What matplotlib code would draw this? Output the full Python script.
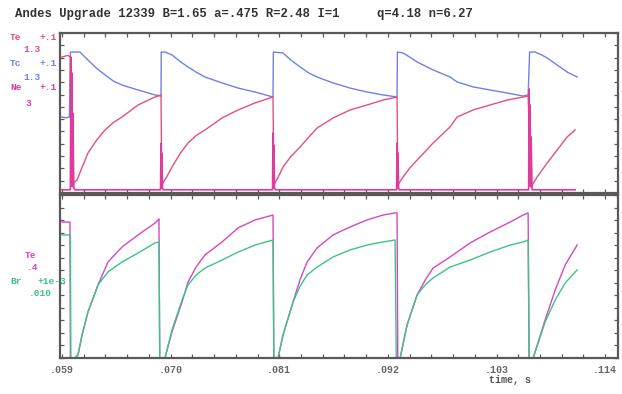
import matplotlib
matplotlib.use("Agg")
import matplotlib.pyplot as plt
from matplotlib.ticker import FixedLocator, FuncFormatter

# ---- data (time in s, signals as fraction of panel height) ----
t_tc = [.05900, .05940, .05975, .05985, .06000, .06082, .06163, .06250, .06336, .06420, .06508, .06670, .06842, .06903,
        .06905, .06943, .07014, .07100, .07176, .07260, .07348, .07521, .07683, .07855, .08037,
        .08040, .08138, .08220, .08311, .08400, .08483, .08645, .08817, .08989, .09151, .09293,
        .09296, .09354, .09420, .09496, .09658, .09830, .09901, .10063, .10235, .10407, .10569, .10620,
        .10635, .10691, .10750, .10813, .10914, .11015, .11116]
tc = [0.475, 0.47, 0.475, 0.88, 0.881, 0.881, 0.831, 0.78, 0.738, 0.70, 0.675, 0.644, 0.613, 0.606,
      0.881, 0.881, 0.863, 0.82, 0.788, 0.755, 0.725, 0.688, 0.656, 0.631, 0.600,
      0.881, 0.875, 0.83, 0.788, 0.75, 0.725, 0.688, 0.656, 0.631, 0.613, 0.600,
      0.881, 0.875, 0.85, 0.819, 0.769, 0.725, 0.694, 0.663, 0.644, 0.625, 0.606, 0.613,
      0.881, 0.881, 0.865, 0.844, 0.800, 0.756, 0.725]

t_te = [.05900, .05960, .05985, .05995, .06052, .06110, .06163, .06250, .06336, .06420, .06508, .06670, .06842, .06903,
        .06910, .06960, .07014, .07100, .07176, .07260, .07348, .07521, .07683, .07855, .08037,
        .08045, .08090, .08138, .08220, .08311, .08400, .08483, .08645, .08817, .08989, .09151, .09293,
        .09300, .09354, .09420, .09496, .09580, .09658, .09830, .09901, .10063, .10235, .10407, .10569, .10620,
        .10650, .10711, .10813, .10914, .11015, .11096]
te = [0.85, 0.86, 0.85, 0.05, 0.081, 0.17, 0.25, 0.33, 0.394, 0.44, 0.475, 0.55, 0.60, 0.613,
      0.05, 0.10, 0.1625, 0.25, 0.3125, 0.36, 0.394, 0.469, 0.519, 0.563, 0.60,
      0.05, 0.10, 0.1625, 0.23, 0.2875, 0.35, 0.406, 0.469, 0.519, 0.55, 0.581, 0.60,
      0.05, 0.10, 0.155, 0.206, 0.26, 0.3125, 0.413, 0.475, 0.519, 0.55, 0.581, 0.60, 0.606,
      0.0375, 0.10, 0.1875, 0.269, 0.35, 0.394]

t_ne = [.05900, .05985, .05990, .05995, .06000, .06005, .06010, .06020, .06030,
        .06898, .06903, .06908, .06912, .06918, .06925,
        .08032, .08037, .08042, .08046, .08052, .08060,
        .09288, .09293, .09298, .09302, .09308, .09315,
        .10625, .10630, .10635, .10640, .10645, .10650, .10660, .11096]
ne = [0.02, 0.02, 0.85, 0.05, 0.75, 0.04, 0.50, 0.03, 0.02,
      0.02, 0.31, 0.03, 0.25, 0.03, 0.02,
      0.02, 0.375, 0.03, 0.30, 0.03, 0.02,
      0.02, 0.3125, 0.03, 0.25, 0.03, 0.02,
      0.02, 0.65, 0.05, 0.55, 0.04, 0.35, 0.02, 0.02]

t_te2 = [.05900, .05981, .05985, .06032, .06062, .06103, .06163, .06265, .06366, .06508, .06670, .06842,
         .06872, .06882, .06890, .06943, .07014, .07116, .07176, .07260, .07348, .07521, .07683, .07855, .08037,
         .08045, .08088, .08138, .08240, .08310, .08382, .08483, .08645, .08817, .08989, .09151, .09273, .09293,
         .09300, .09324, .09394, .09496, .09580, .09658, .09830, .10033, .10235, .10438, .10569, .10620,
         .10630, .10671, .10792, .10894, .10995, .11116]
te2 = [0.834, 0.834, 0.0, 0.0, 0.018, 0.141, 0.282, 0.448, 0.589, 0.681, 0.755, 0.828,
       0.847, 0.853, 0.0, 0.0, 0.160, 0.344, 0.466, 0.56, 0.632, 0.712, 0.798, 0.847, 0.877,
       0.0, 0.0, 0.141, 0.344, 0.48, 0.589, 0.675, 0.755, 0.804, 0.847, 0.877, 0.890, 0.890,
       0.0, 0.0, 0.202, 0.387, 0.48, 0.552, 0.620, 0.706, 0.773, 0.834, 0.877, 0.890,
       0.0, 0.0, 0.233, 0.417, 0.571, 0.693]

t_br = [.05900, .05985, .05990, .06032, .06062, .06103, .06163, .06265, .06366, .06508, .06670, .06842,
        .06882, .06890, .06943, .07014, .07116, .07176, .07260, .07348, .07521, .07683, .07855, .08037,
        .08045, .08088, .08138, .08240, .08310, .08382, .08483, .08645, .08817, .08989, .09151, .09273,
        .09285, .09324, .09394, .09496, .09580, .09658, .09830, .10033, .10235, .10438, .10569, .10620,
        .10630, .10671, .10792, .10894, .10995, .11116]
br = [0.755, 0.755, 0.0, 0.0, 0.018, 0.141, 0.282, 0.448, 0.528, 0.589, 0.644, 0.706,
      0.712, 0.0, 0.0, 0.172, 0.356, 0.448, 0.51, 0.552, 0.601, 0.650, 0.693, 0.724,
      0.0, 0.0, 0.141, 0.344, 0.44, 0.509, 0.558, 0.620, 0.663, 0.693, 0.712, 0.724,
      0.0, 0.0, 0.202, 0.387, 0.45, 0.491, 0.558, 0.601, 0.650, 0.693, 0.712, 0.724,
      0.0, 0.0, 0.221, 0.356, 0.460, 0.540]

xticks = [0.059, 0.070, 0.081, 0.092, 0.103, 0.114]
title_left = "Andes Upgrade 12339 B=1.65 a=.475 R=2.48 I=1"
title_right = "q=4.18 n=6.27"

# ---- colours ----
c_te = "#e5507a"
c_tc = "#7080e6"
c_ne = "#e03a9a"
c_te2 = "#d448c4"
c_br = "#3cc488"
frame = "#5a5a5a"
mono = "Liberation Mono"

fig = plt.figure(figsize=(6.22, 3.94), dpi=100)
ax1 = fig.add_axes([60 / 622, 1 - 193 / 394, 558 / 622, 160 / 394])
ax2 = fig.add_axes([60 / 622, 1 - 358 / 394, 558 / 622, 163 / 394])

ax1.plot(t_tc, tc, color=c_tc, lw=1.0)
ax1.plot(t_te, te, color=c_te, lw=1.0)
ax1.plot(t_ne, ne, color=c_ne, lw=1.2)
ax2.plot(t_te2, te2, color=c_te2, lw=1.0)
ax2.plot(t_br, br, color=c_br, lw=1.0)

minor_x = [xticks[0] + i * 0.0022 for i in range(27)]
for ax in (ax1, ax2):
    ax.set_xlim(0.0588, 0.1153)
    ax.set_ylim(0, 1)
    for s in ax.spines.values():
        s.set_color(frame)
        s.set_linewidth(1.6)
    ax.xaxis.set_major_locator(FixedLocator(xticks))
    ax.xaxis.set_minor_locator(FixedLocator(minor_x))
    ax.yaxis.set_major_locator(FixedLocator([i / 13 for i in range(14)]))
    ax.tick_params(which="both", direction="in", top=True, right=True,
                   length=3, width=0.9, color=frame)
    ax.set_yticklabels([])

ax1.set_xticklabels([])
ax2.xaxis.set_major_formatter(FuncFormatter(lambda v, p: ("%.3f" % v)[1:]))
for lab in ax2.get_xticklabels():
    lab.set_fontfamily(mono)
    lab.set_fontweight("bold")
    lab.set_fontsize(7.2)
    lab.set_color("#666666")
ax2.tick_params(axis="x", pad=5)

# title line
fig.text(15 / 622, 1 - 14 / 394, title_left, family=mono, weight="bold",
         fontsize=8.8, color="#333333", va="center", ha="left")
fig.text(473 / 622, 1 - 14 / 394, title_right, family=mono, weight="bold",
         fontsize=8.8, color="#333333", va="center", ha="right")

# signal labels at the left margin
def lab(x, y, s, c, ha="left"):
    fig.text(x / 622, 1 - y / 394, s, family=mono, weight="bold", fontsize=6.8,
             color=c, va="center", ha=ha)

lab(10, 38, "Te", c_te)
lab(40, 38, "+.1", c_te)
lab(32, 49, "1.3", c_te, "center")
lab(10, 63, "Tc", c_tc)
lab(40, 63, "+.1", c_tc)
lab(32, 77, "1.3", c_tc, "center")
lab(10, 88, "Ne", c_ne)
lab(40, 88, "+.1", c_ne)
lab(28, 103, "3", c_ne, "center")

lab(25, 255, "Te", c_te2)
lab(33, 268, ".4", c_te2, "center")
lab(10, 282, "Br", c_br)
lab(38, 282, "+1e-3", c_br)
lab(40, 294, ".010", c_br, "center")

fig.text(510 / 622, 1 - 380 / 394, "time, s", family=mono, weight="bold",
         fontsize=7.2, color="#555555", va="center", ha="center")

fig.savefig("out.png", dpi=100)
